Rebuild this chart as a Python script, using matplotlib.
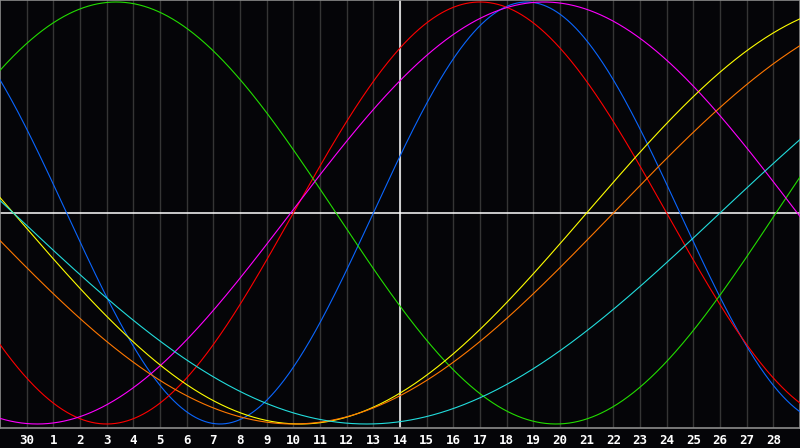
import numpy as np
import matplotlib
matplotlib.use("Agg")
import matplotlib.pyplot as plt

# Day labels under each gridline (previous month's 30th, then 1..28)
DAY_LABELS = ["30"] + [str(d) for d in range(1, 29)]
TODAY_INDEX = 15  # gridline labelled "14"

# Biorhythm cycles: period in days and day index of the rising zero crossing
CYCLES = ["Physical", "Emotional", "Intellectual", "Intuitive", "Aesthetic", "Awareness", "Spiritual"]
PERIODS = [23, 28, 33, 38, 43, 48, 53]
RISING_ZERO = [14.0, 11.0, 29.1, 10.9, 22.0, 23.0, 27.0]
COLORS = ["#0a66ff", "#ff0000", "#22dd00", "#ff00ff", "#ffff00", "#ff7700", "#22dddd"]

BG = "#050508"
GRID = "#353535"
FRAME = "#8c8c8c"


def main():
    fig = plt.figure(figsize=(8, 4.48), dpi=100, facecolor=BG)
    ax = fig.add_axes([0, 20 / 448, 1, 428 / 448], facecolor=BG)

    t = np.linspace(0, 30, 1200)
    for period, zero, color in zip(PERIODS, RISING_ZERO, COLORS):
        ax.plot(t, np.sin(2 * np.pi * (t - zero) / period), color=color, lw=0.8, zorder=3)

    ticks = list(range(1, 30))
    for x in ticks:
        ax.axvline(x, color=GRID, lw=1.0, zorder=1)
    ax.axvline(TODAY_INDEX, color="white", lw=1.1, zorder=2)
    ax.axhline(0, color="white", lw=1.1, zorder=2)

    ax.set_xlim(0, 30)
    ax.set_ylim(-1.019, 1.0095)
    ax.set_xticks(ticks)
    ax.set_xticklabels(DAY_LABELS, color="white", fontsize=9, fontweight="bold",
                       family="DejaVu Sans Mono")
    ax.tick_params(axis="x", length=0, pad=4)
    ax.set_yticks([])

    for side, spine in ax.spines.items():
        spine.set_color(FRAME)
        spine.set_linewidth(1.2)

    fig.savefig("out.png", dpi=100, facecolor=BG)


if __name__ == "__main__":
    main()
